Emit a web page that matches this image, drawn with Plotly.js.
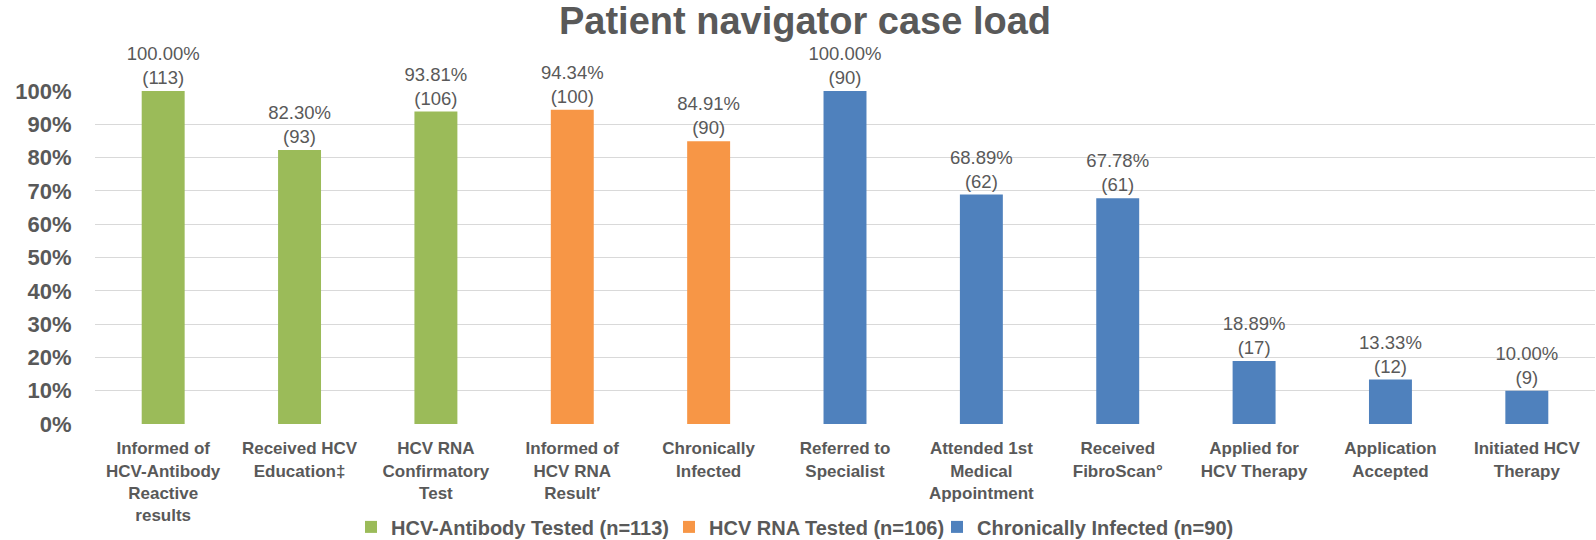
<!DOCTYPE html>
<html>
<head>
<meta charset="utf-8">
<script src="https://cdn.plot.ly/plotly-3.0.1.min.js"></script>
<style>html,body{margin:0;padding:0;background:#fff;}#chart{width:1596px;height:540px;}</style>
</head>
<body>
<div id="chart"></div>
<script>
// Categories (x tick labels)
const allCategories = [
  "Informed of<br>HCV-Antibody<br>Reactive<br>results",
  "Received HCV<br>Education‡",
  "HCV RNA<br>Confirmatory<br>Test",
  "Informed of<br>HCV RNA<br>Result′",
  "Chronically<br>Infected",
  "Referred to<br>Specialist",
  "Attended 1st<br>Medical<br>Appointment",
  "Received<br>FibroScan°",
  "Applied for<br>HCV Therapy",
  "Application<br>Accepted",
  "Initiated HCV<br>Therapy"
];

// Series 1: HCV-Antibody Tested (n=113)
const antibodyCats = allCategories.slice(0, 3);
const antibodyPct = [100.00, 82.30, 93.81];
const antibodyN = [113, 93, 106];

// Series 2: HCV RNA Tested (n=106)
const rnaCats = allCategories.slice(3, 5);
const rnaPct = [94.34, 84.91];
const rnaN = [100, 90];

// Series 3: Chronically Infected (n=90)
const chronicCats = allCategories.slice(5);
const chronicPct = [100.00, 68.89, 67.78, 18.89, 13.33, 10.00];
const chronicN = [90, 62, 61, 17, 12, 9];

const seriesNames = ["HCV-Antibody Tested (n=113)", "HCV RNA Tested (n=106)", "Chronically Infected (n=90)"];
const seriesColors = ["#9BBB59", "#F79646", "#4F81BD"];
const legendIds = ["legend", "legend2", "legend3"];

const yTicks = [0,10,20,30,40,50,60,70,80,90,100];

const FONT = "Liberation Sans, Arial, sans-serif";

function labels(p, n) {
  return p.map((v, i) => v.toFixed(2) + "%<br>(" + n[i] + ")");
}

function makeTrace(cats, pct, n, k) {
  return {
    type: "bar",
    x: cats,
    y: pct,
    name: seriesNames[k],
    legend: legendIds[k],
    marker: {color: seriesColors[k]},
    width: 0.315,
    text: labels(pct, n),
    textposition: "outside",
    textfont: {family: FONT, size: 18.5, color: "#595959"},
    constraintext: "none",
    cliponaxis: false,
    hoverinfo: "x+y"
  };
}

const data = [
  makeTrace(antibodyCats, antibodyPct, antibodyN, 0),
  makeTrace(rnaCats, rnaPct, rnaN, 1),
  makeTrace(chronicCats, chronicPct, chronicN, 2)
];

// plot area: left 95px, width 1500px
function px2paper(px) { return (px - 95) / 1500; }
function legendAt(px) {
  return {
    orientation: "h",
    x: px2paper(px), xanchor: "left",
    y: -0.309, yanchor: "middle",
    font: {family: FONT, size: 20, color: "#595959", weight: "bold"},
    itemwidth: 30,
    bgcolor: "rgba(0,0,0,0)",
    borderwidth: 0
  };
}

const layout = {
  width: 1596,
  height: 540,
  margin: {l: 95, r: 1, t: 91, b: 116, pad: 0, autoexpand: false},
  paper_bgcolor: "#ffffff",
  plot_bgcolor: "#ffffff",
  barmode: "relative",
  showlegend: true,
  title: {
    text: "<b>Patient navigator case load</b>",
    font: {family: FONT, size: 38, color: "#595959"},
    x: 805 / 1596, xanchor: "center", xref: "container",
    y: 1 - 21 / 540, yanchor: "middle", yref: "container"
  },
  xaxis: {
    type: "category",
    categoryorder: "array",
    categoryarray: allCategories,
    range: [-0.5, 10.5],
    showgrid: false,
    showline: false,
    zeroline: false,
    ticks: "outside",
    ticklen: 9,
    tickcolor: "rgba(0,0,0,0)",
    tickangle: 0,
    tickfont: {family: FONT, size: 17, color: "#595959", weight: "bold"},
    fixedrange: true
  },
  yaxis: {
    range: [0, 100],
    tickvals: yTicks,
    ticktext: yTicks.map(v => "<b>" + v + "%</b>"),
    showgrid: true,
    gridcolor: "#D9D9D9",
    gridwidth: 1,
    zeroline: false,
    showline: false,
    ticks: "outside",
    ticklen: 18,
    tickcolor: "rgba(0,0,0,0)",
    tickfont: {family: FONT, size: 22, color: "#595959"},
    fixedrange: true
  },
  legend: legendAt(392 - 41),
  legend2: legendAt(710 - 41),
  legend3: legendAt(978 - 41)
};

Plotly.newPlot("chart", data, layout, {displayModeBar: false, staticPlot: true});
</script>
</body>
</html>
